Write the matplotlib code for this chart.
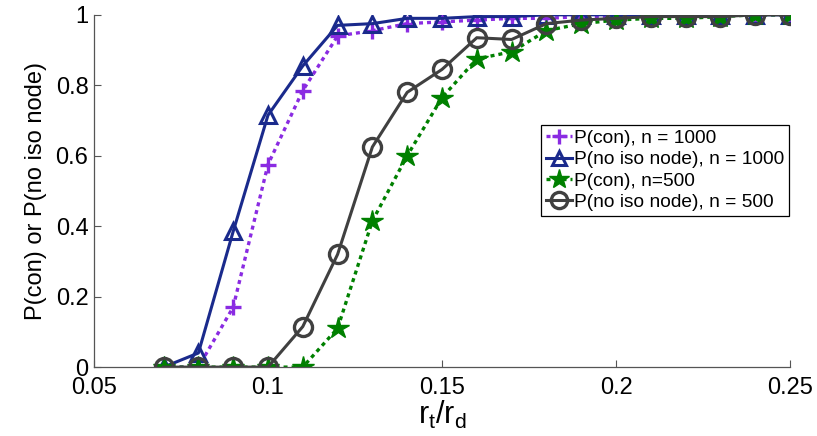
import matplotlib
matplotlib.use("Agg")
import matplotlib.pyplot as plt

plt.rcParams["font.family"] = ["Liberation Sans", "DejaVu Sans"]
plt.rcParams["mathtext.fontset"] = "custom"
plt.rcParams["mathtext.rm"] = "Liberation Sans"
plt.rcParams["mathtext.it"] = "Liberation Sans"

# r_t / r_d
ratio = [0.07, 0.08, 0.09, 0.10, 0.11, 0.12, 0.13, 0.14, 0.15, 0.16,
         0.17, 0.18, 0.19, 0.20, 0.21, 0.22, 0.23, 0.24, 0.25]

con_1000 = [0, 0, 0.17, 0.575, 0.785, 0.94, 0.955, 0.975, 0.98, 0.985,
            0.99, 0.99, 0.995, 0.995, 1, 1, 1, 1, 1]
noiso_1000 = [0, 0.04, 0.385, 0.715, 0.855, 0.97, 0.975, 0.99, 0.99, 0.995,
              0.995, 1, 1, 1, 1, 1, 1, 1, 1]
con_500 = [0, 0, 0, 0, 0, 0.11, 0.415, 0.60, 0.765, 0.875,
           0.895, 0.955, 0.975, 0.985, 0.99, 0.99, 0.995, 1, 1]
noiso_500 = [0, 0, 0, 0, 0.115, 0.32, 0.625, 0.78, 0.845, 0.935,
             0.93, 0.975, 0.985, 0.99, 0.995, 0.995, 0.995, 1, 1]

fig = plt.figure(figsize=(8.17, 4.36), dpi=100)
ax = fig.add_axes([0.115, 0.158, 0.852, 0.808])

ax.plot(ratio, con_1000, color="#8a2be2", linestyle=(0, (1.2, 1.2)), linewidth=2.4,
        marker="+", markersize=12, markeredgewidth=2.4, label="P(con), n = 1000")
ax.plot(ratio, noiso_1000, color="#1a2a8c", linewidth=2.2,
        marker="^", markersize=11, markerfacecolor="none", markeredgewidth=2.2,
        label="P(no iso node), n = 1000")
ax.plot(ratio, con_500, color="#008000", linestyle=(0, (1.2, 1.2)), linewidth=2.4,
        marker="*", markersize=16, markeredgewidth=1, label="P(con), n=500")
ax.plot(ratio, noiso_500, color="#404040", linewidth=2.2,
        marker="o", markersize=13, markerfacecolor="none", markeredgewidth=2.4,
        label="P(no iso node), n = 500")

ax.set_xlim(0.05, 0.25)
ax.set_ylim(0, 1)
ax.set_xticks([0.05, 0.1, 0.15, 0.2, 0.25])
ax.set_xticklabels(["0.05", "0.1", "0.15", "0.2", "0.25"])
ax.set_yticks([0, 0.2, 0.4, 0.6, 0.8, 1])
ax.set_yticklabels(["0", "0.2", "0.4", "0.6", "0.8", "1"])
ax.tick_params(direction="in", length=5, width=0.8, labelsize=17, color="#555555")
ax.tick_params(axis="x", pad=7)
ax.tick_params(axis="y", pad=4)

for side in ["top", "right"]:
    ax.spines[side].set_visible(False)
for side in ["left", "bottom"]:
    ax.spines[side].set_color("#555555")
    ax.spines[side].set_linewidth(0.9)

ax.set_xlabel(r"$\mathregular{r_t/r_d}$", fontsize=22, labelpad=0)
ax.set_ylabel("P(con) or P(no iso node)", fontsize=17, labelpad=6)

leg = ax.legend(loc="upper right", bbox_to_anchor=(0.999, 0.6875), fontsize=13.8,
                handlelength=1.4, handletextpad=0.1, borderpad=0.25,
                labelspacing=0.2, borderaxespad=0, fancybox=False,
                framealpha=1, markerscale=0.9)
leg.get_frame().set_edgecolor("black")
leg.get_frame().set_linewidth(0.9)

fig.savefig("out.png", dpi=100)
